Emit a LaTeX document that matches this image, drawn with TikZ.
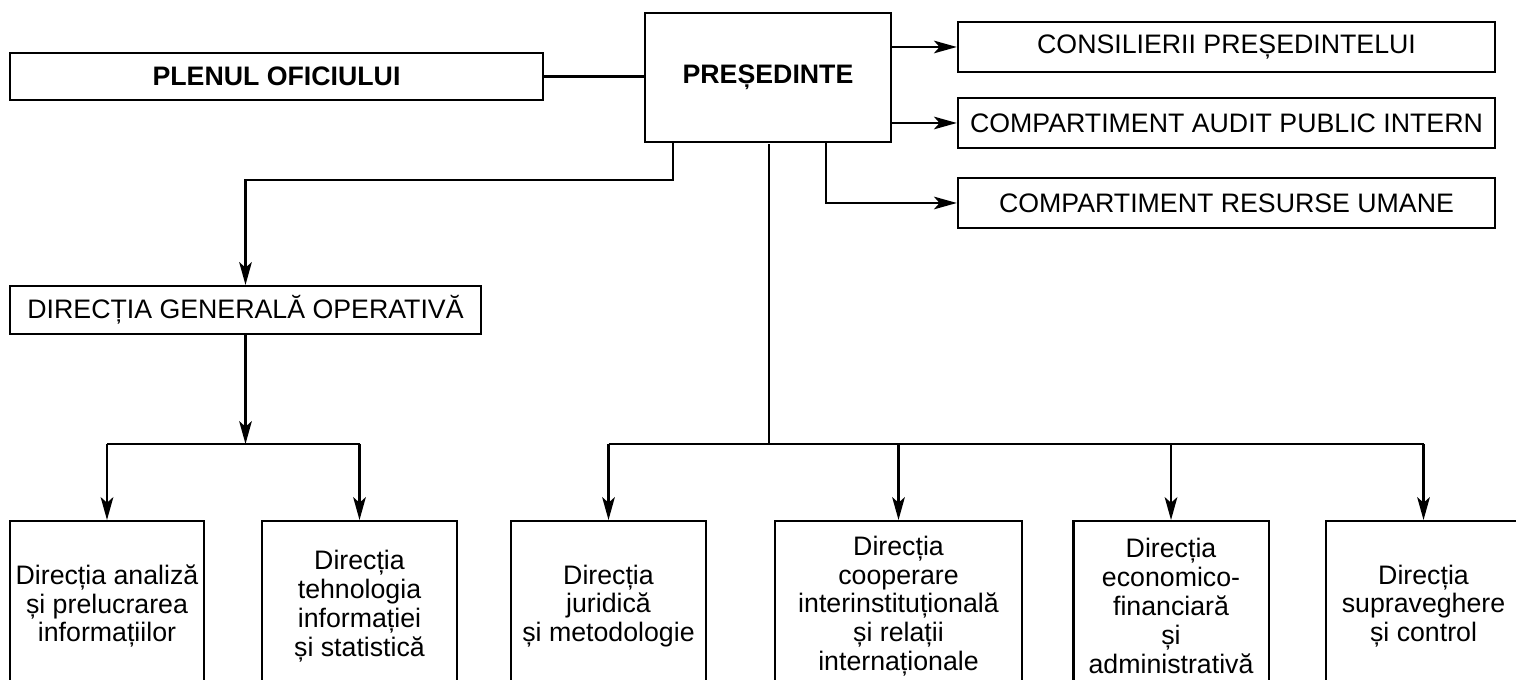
\documentclass[tikz,border=0pt]{standalone}
\usepackage{fontspec}
\setmainfont{Liberation Sans}
\usetikzlibrary{arrows.meta}
\tikzset{
  box/.style={draw, inner sep=0pt, align=center, font=\fontsize{7.6}{8.2}\selectfont},
  dirbox/.style={box, minimum width=1.95cm, minimum height=1.7cm, anchor=north},
  topbox/.style={box, minimum width=5.37cm, minimum height=.5cm},
}

\begin{document}
\begin{tikzpicture}[x=0.01cm, y=-0.01cm, line width=.6pt, >={Stealth[length=6.5pt,width=3.6pt,inset=1.6pt]}]
\clip (0,0) rectangle (1516,680);

% conducere
\node[box, minimum width=5.33cm, minimum height=.47cm] (plenul) at (276.5,76.5) {\bfseries PLENUL OFICIULUI};
\node[box, minimum width=2.46cm, minimum height=1.29cm] (pres) at (768,77.5) {\bfseries PREȘEDINTE};
\node[topbox] (cons) at (1226.5,47) {CONSILIERII PREȘEDINTELUI};
\node[topbox] (audit) at (1226.5,123) {COMPARTIMENT AUDIT PUBLIC INTERN};
\node[topbox] (resurse) at (1226.5,203) {COMPARTIMENT RESURSE UMANE};
\node[box, minimum width=4.71cm, minimum height=.48cm] (dgo) at (245.5,310) {DIRECȚIA GENERALĂ OPERATIVĂ};

% directii
\node[dirbox, minimum width=1.94cm] (analiza) at (107,520) {Direcția analiză\\și prelucrarea\\informațiilor};
\node[dirbox] (tehno) at (359.5,520) {Direcția\\tehnologia\\informației\\și statistică};
\node[dirbox] (jur) at (608.5,520) {Direcția\\juridică\\și metodologie};
\node[dirbox, minimum width=2.47cm] (coop) at (898.5,520) {Direcția\\cooperare\\interinstituțională\\și relații\\internaționale};
\node[dirbox] (econ) at (1171,520) {Direcția\\economico-\\financiară\\și\\administrativă};
\node[dirbox] (sup) at (1423.5,520) {Direcția\\supraveghere\\și control};

\coordinate (lt) at (673,180);
\coordinate (rt) at (826,203);
\coordinate (busA) at (246,444);
\coordinate (busB) at (769,444);

% legaturi
\draw (plenul.east) -- (plenul.east -| pres.west);
\draw[->] (pres.east |- cons) -- (cons.west);
\draw[->] (pres.east |- audit) -- (audit.west);
\draw[->] (pres.south -| rt) |- (resurse.west);
\draw[->] (pres.south -| lt) -- (lt) -| (dgo.north);
\draw ([yshift=-.4pt]pres.south -| busB) -- (busB);

\draw[->] (dgo.south) -- (dgo.south |- busA);
\draw (analiza.north |- busA) -- (tehno.north |- busA);
\foreach \n in {analiza,tehno}
  \draw[->] (\n.north |- busA) -- (\n.north);

\draw (jur.north |- busB) -- (sup.north |- busB);
\foreach \n in {jur,coop,econ,sup}
  \draw[->] (\n.north |- busB) -- (\n.north);
\end{tikzpicture}
\end{document}
